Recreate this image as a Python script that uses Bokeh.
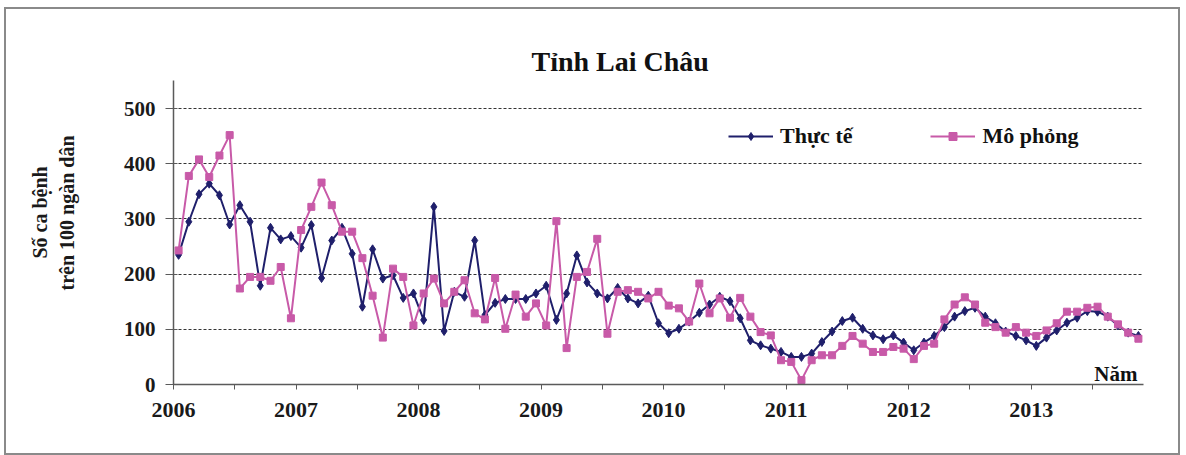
from bokeh.plotting import figure
from bokeh.models import Range1d, FixedTicker, Legend, LegendItem, Label, Title
from bokeh.embed import file_html
from bokeh.resources import INLINE

# ---- data (monthly, Jan 2006 .. Nov 2013) ----
years = ["2006", "2007", "2008", "2009", "2010", "2011", "2012", "2013"]
y_ticks = [0, 100, 200, 300, 400, 500]

thuc_te = [235, 295, 345, 364, 343, 290, 325, 295, 179, 284, 263, 269,
           248, 289, 193, 261, 284, 237, 141, 245, 192, 198, 157, 165,
           117, 322, 97, 168, 159, 261, 126, 148, 155, 155, 155, 165,
           179, 117, 165, 234, 185, 165, 156, 175, 156, 147, 161, 111,
           93, 101, 114, 130, 145, 159, 151, 120, 80, 71, 65, 59,
           50, 50, 56, 77, 96, 115, 121, 101, 89, 82, 89, 76,
           62, 76, 88, 104, 123, 133, 139, 123, 111, 96, 88, 80,
           70, 85, 98, 112, 121, 133, 132, 123, 107, 94, 88]

mo_phong = [243, 378, 408, 376, 415, 452, 174, 195, 195, 188, 213, 120,
            280, 322, 366, 325, 277, 277, 229, 161, 85, 210, 195, 107,
            165, 192, 147, 168, 189, 129, 118, 193, 101, 163, 123, 147,
            107, 296, 66, 195, 204, 264, 92, 168, 171, 168, 156, 168,
            143, 138, 114, 183, 129, 156, 121, 157, 123, 95, 89, 44,
            41, 8, 44, 53, 53, 70, 88, 74, 59, 59, 68, 65,
            46, 70, 74, 118, 145, 158, 145, 112, 104, 94, 104, 94,
            88, 98, 111, 132, 132, 139, 141, 123, 109, 94, 83]

n = len(thuc_te)
x = [i + 0.5 for i in range(n)]  # categories placed between tick marks

BLUE = "#1f1f6b"
PINK = "#c85aa8"
FONT = "Liberation Serif"

p = figure(width=1172, height=444, output_backend="svg", toolbar_location=None,
           x_range=Range1d(0, n), y_range=Range1d(0, 551),
           min_border_left=167, min_border_right=35, min_border_top=71,
           min_border_bottom=69, margin=(9, 0, 0, 6))
p.styles = {"outline": "2px solid #8a8a8a"}
p.outline_line_color = None
p.background_fill_color = "white"
p.border_fill_color = "white"

# title
p.title.text = "Tỉnh Lai Châu"
p.title.align = "left"
p.title.offset = 358
p.title.text_font = FONT
p.title.text_font_style = "bold"
p.title.text_font_size = "28px"
p.title.text_color = "#111111"
p.title.standoff = 8

# x axis
half_year_ticks = list(range(0, n, 6))
overrides = {}
for t in half_year_ticks:
    overrides[t] = years[t // 12] if t % 12 == 0 else ""
p.xaxis.ticker = FixedTicker(ticks=half_year_ticks)
p.xaxis.major_label_overrides = overrides
p.xaxis.major_tick_in = 0
p.xaxis.major_tick_out = 5
p.xaxis.minor_tick_line_color = None
p.xaxis.axis_line_color = "#5a5a5a"
p.xaxis.axis_line_width = 1.5
p.xaxis.major_tick_line_color = "#5a5a5a"
p.xaxis.major_label_standoff = 13
p.xaxis.major_label_text_font = FONT
p.xaxis.major_label_text_font_style = "bold"
p.xaxis.major_label_text_font_size = "22px"
p.xaxis.major_label_text_color = "#1a1a1a"

# y axis
p.yaxis.ticker = FixedTicker(ticks=y_ticks)
p.yaxis.major_tick_in = 4
p.yaxis.major_tick_out = 8
p.yaxis.minor_tick_line_color = None
p.yaxis.axis_line_color = "#5a5a5a"
p.yaxis.axis_line_width = 1.5
p.yaxis.major_tick_line_color = "#5a5a5a"
p.yaxis.major_label_standoff = 10
p.yaxis.major_label_text_font = FONT
p.yaxis.major_label_text_font_style = "bold"
p.yaxis.major_label_text_font_size = "21px"
p.yaxis.major_label_text_color = "#1a1a1a"

# spacer between the tick labels and the two-line y axis title
p.add_layout(Title(text=" ", standoff=36, text_font_size="1px"), "left")
# y axis title as two rotated lines
for txt, off, so in [("trên 100 ngàn dân", 94, 7), ("Số ca bệnh", 126, 0)]:
    p.add_layout(Title(text=txt, align="left", offset=off, standoff=so,
                       text_font=FONT, text_font_style="bold",
                       text_font_size="20px", text_color="#1a1a1a"), "left")

# grid
p.xgrid.visible = False
p.ygrid.grid_line_color = "#333333"
p.ygrid.grid_line_dash = "3 2"
p.ygrid.grid_line_width = 1

# series
bl = p.line(x, thuc_te, color=BLUE, line_width=2)
bs = p.scatter(x, thuc_te, marker="diamond", size=9, color=BLUE)
pl = p.line(x, mo_phong, color=PINK, line_width=2)
ps = p.scatter(x, mo_phong, marker="square", size=7, color=PINK)

legend = Legend(items=[LegendItem(label="Thực tế", renderers=[bl, bs]),
                       LegendItem(label="Mô phỏng", renderers=[pl, ps])],
                orientation="horizontal", location=(555, 235),
                glyph_width=45, glyph_height=20, label_standoff=7, spacing=78,
                padding=0, margin=0, border_line_color=None,
                background_fill_alpha=0,
                label_text_font=FONT, label_text_font_style="bold",
                label_text_font_size="22px", label_text_color="#111111")
p.add_layout(legend)

p.add_layout(Label(x=n, y=0, x_offset=-6, y_offset=11, text="Năm",
                   text_align="right", text_baseline="alphabetic",
                   text_font=FONT, text_font_style="bold",
                   text_font_size="21px", text_color="#111111"))

open("out.html", "w").write(file_html(p, INLINE))
